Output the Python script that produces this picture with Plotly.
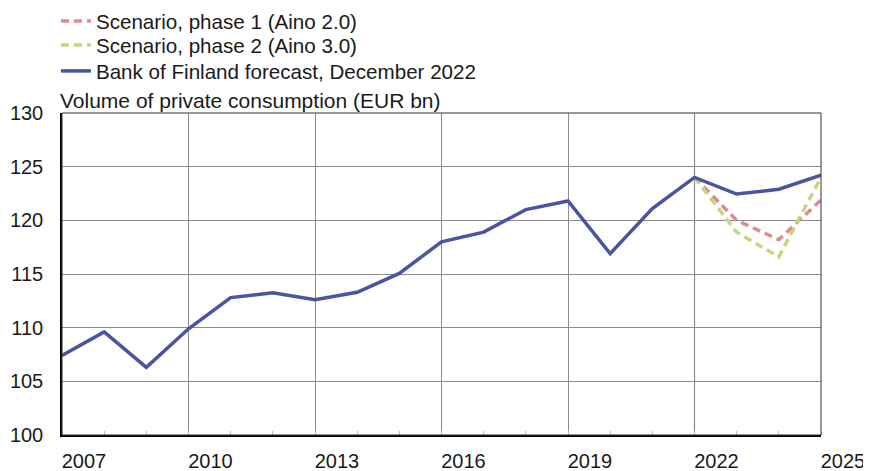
import plotly.graph_objects as go

years = list(range(2007, 2026))
bof_forecast = [107.4, 109.6, 106.3, 109.9, 112.8, 113.25, 112.6, 113.3, 115.05,
                118.0, 118.9, 121.0, 121.8, 116.9, 121.1, 124.0, 122.45, 122.9, 124.2]
scen_years = [2022, 2023, 2024, 2025]
scenario_phase1 = [124.0, 120.0, 118.2, 121.9]
scenario_phase2 = [124.0, 118.9, 116.6, 124.0]

tick_years = [2007, 2010, 2013, 2016, 2019, 2022, 2025]
tick_labels = [str(y) for y in tick_years]
y_ticks = [100, 105, 110, 115, 120, 125, 130]
forecast_start = 2022

FONT = "Liberation Sans, Arial, sans-serif"
TXT = "#1a1a1a"

fig = go.Figure()
fig.add_trace(go.Scatter(x=scen_years, y=scenario_phase1, mode="lines",
                         name="Scenario, phase 1 (Aino 2.0)", legend="legend",
                         line=dict(color="#E0898E", width=3.5, dash="8px,5px")))
fig.add_trace(go.Scatter(x=scen_years, y=scenario_phase2, mode="lines",
                         name="Scenario, phase 2 (Aino 3.0)", legend="legend2",
                         line=dict(color="#C9D47E", width=3.5, dash="8px,5px")))
fig.add_trace(go.Scatter(x=years, y=bof_forecast, mode="lines",
                         name="Bank of Finland forecast, December 2022", legend="legend3",
                         line=dict(color="#4A54A0", width=3.5)))

fig.add_shape(type="line", xref="x", yref="paper", x0=forecast_start, x1=forecast_start,
              y0=0, y1=1, line=dict(color="#d6d6d6", width=1.5), layer="between")

def leg(yv):
    return dict(x=-0.008, y=yv, xanchor="left", yanchor="middle", yref="paper",
                bgcolor="rgba(0,0,0,0)", font=dict(size=20.6, color=TXT),
                itemwidth=30)

fig.update_layout(
    width=863, height=463,
    margin=dict(l=54, r=50, t=105, b=36, autoexpand=False),
    paper_bgcolor="white", plot_bgcolor="white",
    font=dict(family=FONT, size=20, color=TXT),
    showlegend=True,
    legend=leg(1.2857), legend2=leg(1.2112), legend3=leg(1.1304),
    xaxis=dict(range=[2007, 2025], tickvals=tick_years, ticktext=tick_labels,
               showgrid=True, gridcolor="#8c8c8c", gridwidth=1,
               showline=True, linecolor="black", linewidth=2, mirror=False,
               ticks="", ticklabelshift=22, ticklabelstandoff=7, automargin=False,
               minor=dict(dtick=1, tick0=2007, ticks="inside", ticklen=4,
                          tickcolor="#bfbfbf", showgrid=False),
               zeroline=False, tickfont=dict(size=20)),
    yaxis=dict(range=[100, 130], tickvals=y_ticks,
               showgrid=True, gridcolor="#8c8c8c", gridwidth=1,
               showline=True, linecolor="black", linewidth=1.5, mirror=False,
               ticks="", ticklabelstandoff=13, zeroline=False, automargin=False,
               tickfont=dict(size=20)),
    annotations=[dict(text="Volume of private consumption (EUR bn)", xref="paper", yref="paper",
                      x=0, y=1, xanchor="left", yanchor="bottom", showarrow=False,
                      xshift=-4, yshift=-1, font=dict(size=21, color=TXT))],
)
# top and right frame
fig.add_shape(type="rect", xref="paper", yref="paper", x0=0, x1=1, y0=0, y1=1,
              line=dict(color="#333333", width=1), layer="above")

fig.write_html("out.html")
